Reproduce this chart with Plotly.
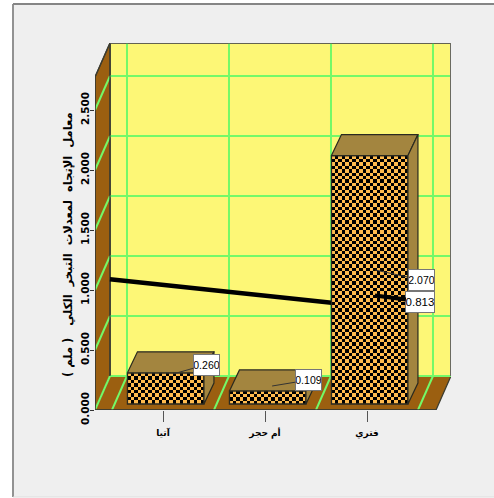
import numpy as np
import plotly.graph_objects as go

# Chart values
categories = ["آتيا", "أم حجر", "فتري"]
bar_values = [0.260, 0.109, 2.070]
bar_labels = ["0.260", "0.109", "2.070"]
trend_x = [-0.52, 0, 1, 2]
trend_y = [1.04, 0.995, 0.904, 0.813]
trend_label = "0.813"
y_ticks = [0.0, 0.5, 1.0, 1.5, 2.0, 2.5]
axis_title = "معامل  الإتجاه  لمعدلات  التبخر  الكلي   ( ملم )"

# Drawing scale of the pseudo-3D box
W, H = 494, 498
PX_L, PX_R, PX_T, PX_B = 95, 451, 43, 410
PX_PER_CAT = 102.0
PX_PER_UNIT = 120.0
X_RANGE = [(PX_L - 163) / PX_PER_CAT, (PX_R - 163) / PX_PER_CAT]
Y_RANGE = [0, (PX_B - PX_T) / PX_PER_UNIT]
BOX_DX = 15 / PX_PER_CAT
BOX_DY = 34 / PX_PER_UNIT
BAR_DX = 10 / PX_PER_CAT
BAR_DY = 21 / PX_PER_UNIT
BAR_BASE = 6 / PX_PER_UNIT
BAR_W = 76.5 / PX_PER_CAT
BAR_SHIFT = 2.7 / PX_PER_CAT
FRONT_RIGHT = X_RANGE[1] - BOX_DX
CELL = 3.4

BROWN = "#9b5f10"
YELLOW = "#fdf776"
GREEN = "#74f968"
TAN = "#a3853f"
ORANGE = "#ffbb4e"
EDGE = "#3c3c30"


def polygon(xs, ys, fill, line=EDGE, width=1.3):
    path = "M" + " L".join(f"{x},{y}" for x, y in zip(xs, ys)) + " Z"
    return dict(type="path", xref="x", yref="y", path=path, fillcolor=fill,
                line=dict(color=line, width=width), layer="below")


def segment(x0, y0, x1, y1, color=GREEN, width=2):
    return dict(type="line", xref="x", yref="y", x0=x0, y0=y0, x1=x1, y1=y1,
                line=dict(color=color, width=width), layer="below")


def paper_x(px):
    return (px - PX_L) / (PX_R - PX_L)


def paper_y(px):
    return (PX_B - px) / (PX_B - PX_T)


x0, x1 = X_RANGE
top = Y_RANGE[1]
shapes = [
    # Panel behind the chart
    dict(type="rect", xref="paper", yref="paper", x0=paper_x(13), x1=paper_x(494),
         y0=paper_y(497), y1=paper_y(4), fillcolor="#efefef",
         line=dict(color="rgba(0,0,0,0)", width=0), layer="below"),
    dict(type="line", xref="paper", yref="paper", x0=paper_x(13), x1=paper_x(13),
         y0=paper_y(497), y1=paper_y(4), line=dict(color="#929292", width=2), layer="below"),
    dict(type="line", xref="paper", yref="paper", x0=paper_x(13), x1=paper_x(494),
         y0=paper_y(4), y1=paper_y(4), line=dict(color="#858585", width=2), layer="below"),
    dict(type="line", xref="paper", yref="paper", x0=paper_x(13), x1=paper_x(494),
         y0=paper_y(497), y1=paper_y(497), line=dict(color="#dcdcdc", width=1), layer="below"),
    # Back wall, left wall and floor
    polygon([x0 + BOX_DX, x1, x1, x0 + BOX_DX], [BOX_DY, BOX_DY, top, top], YELLOW, "#6a6a60", 1.6),
    polygon([x0, x0, x0 + BOX_DX, x0 + BOX_DX], [0, top - BOX_DY, top, BOX_DY], BROWN),
    polygon([x0, FRONT_RIGHT, x1, x0 + BOX_DX], [0, 0, BOX_DY, BOX_DY], BROWN),
]

# Grid lines running along the walls and the floor
for v in y_ticks:
    shapes.append(segment(x0, v, x0 + BOX_DX, v + BOX_DY))
    shapes.append(segment(x0 + BOX_DX, v + BOX_DY, x1, v + BOX_DY))
for i in range(len(categories) + 1):
    gx = i - 0.353
    shapes.append(segment(gx, BOX_DY, gx, top))
    shapes.append(segment(gx - BOX_DX, 0, gx, BOX_DY))

# Re-stroke the box edges above the grid
shapes += [
    segment(x0, 0, FRONT_RIGHT, 0, EDGE, 1.6),
    segment(x0, 0, x0, top - BOX_DY, EDGE, 1.6),
    segment(x0, top - BOX_DY, x0 + BOX_DX, top, EDGE, 1.3),
    segment(x0 + BOX_DX, 0 + BOX_DY, x0 + BOX_DX, top, EDGE, 1.3),
    segment(x0 + BOX_DX, top, x1, top, "#55554c", 1.6),
    segment(x1, BOX_DY, x1, top, "#6a6a60", 2),
]

fig = go.Figure()

# Sloping trend line sits behind the bars
fig.add_trace(go.Scatter(x=trend_x, y=[v + BAR_BASE for v in trend_y], mode="lines",
                         line=dict(color="black", width=4.5), hoverinfo="skip",
                         xaxis="x", yaxis="y"))

# Checkered front faces, one texture block per bar
for i, v in enumerate(bar_values):
    left = i + BAR_SHIFT - BAR_W / 2
    right = left + BAR_W
    px_w = BAR_W * PX_PER_CAT
    px_h = v * PX_PER_UNIT
    n_cols = int(round(px_w / CELL))
    n_rows = max(1, int(round(px_h / CELL)))
    xe = np.linspace(left, right, n_cols + 1)
    ye = np.linspace(BAR_BASE, BAR_BASE + v, n_rows + 1)
    check = (np.indices((n_rows, n_cols)).sum(axis=0) % 2).astype(float)
    fig.add_trace(go.Heatmap(x=xe, y=ye, z=check, zmin=0, zmax=1, showscale=False,
                             colorscale=[[0, ORANGE], [1, "black"]], hoverinfo="skip",
                             xaxis="x2", yaxis="y2"))

# The bars themselves: outline over the texture
fig.add_trace(go.Bar(x=[i + BAR_SHIFT for i in range(len(bar_values))], y=bar_values,
                     base=BAR_BASE, width=BAR_W,
                     marker=dict(color="rgba(0,0,0,0)", line=dict(color="#2a2a20", width=1.3)),
                     hoverinfo="skip", xaxis="x2", yaxis="y2"))

# Top and side faces of each bar
for i, v in enumerate(bar_values):
    left = i + BAR_SHIFT - BAR_W / 2
    right = left + BAR_W
    y_top = BAR_BASE + v
    fig.add_trace(go.Scatter(
        x=[left, right, right + BAR_DX, left + BAR_DX, left],
        y=[y_top, y_top, y_top + BAR_DY, y_top + BAR_DY, y_top],
        mode="lines", fill="toself", fillcolor=TAN, line=dict(color="#2a2a20", width=1.2),
        hoverinfo="skip", xaxis="x2", yaxis="y2"))
    fig.add_trace(go.Scatter(
        x=[right, right + BAR_DX, right + BAR_DX, right, right],
        y=[BAR_BASE, BAR_BASE + BAR_DY, y_top + BAR_DY, y_top, BAR_BASE],
        mode="lines", fill="toself", fillcolor=TAN, line=dict(color="#2a2a20", width=1.2),
        hoverinfo="skip", xaxis="x2", yaxis="y2"))


def value_label(text, x, y, ax, ay, size=10.5, arrow=1, color="#333", box_w=25):
    return dict(text=text, x=x, y=y, xref="x", yref="y", ax=ax, ay=ay,
                axref="pixel", ayref="pixel", showarrow=True, arrowhead=0,
                arrowwidth=arrow, arrowcolor=color, bgcolor="white",
                width=box_w, height=20, align="center", valign="middle",
                bordercolor="#777", borderwidth=1, borderpad=0,
                font=dict(family="Liberation Sans", size=size, color="black"))


annotations = [
    value_label(bar_labels[0], 0.098, 0.30, 33.6, -9.5),
    value_label(bar_labels[1], 1.07, 0.20, 36.4, -6),
    value_label(bar_labels[2], 2.078, 1.167, 46.4, 10),
    value_label(trend_label, 2.078, trend_y[2] + BAR_BASE, 45.4, 6, size=11.5, arrow=4,
                color="black", box_w=28),
    dict(text=axis_title, xref="paper", yref="paper", x=paper_x(68), y=paper_y(245),
         showarrow=False, textangle=-90, xanchor="center", yanchor="middle",
         font=dict(family="DejaVu Sans", size=11.5, color="black", weight="bold")),
]

axis_common = dict(showgrid=False, zeroline=False, showline=False, automargin=False)
fig.update_layout(
    width=W, height=H, autosize=False, showlegend=False,
    margin=dict(l=PX_L, r=W - PX_R, t=PX_T, b=H - PX_B, pad=0),
    paper_bgcolor="white", plot_bgcolor="rgba(0,0,0,0)",
    barmode="overlay", shapes=shapes, annotations=annotations,
    xaxis=dict(range=X_RANGE, tickmode="array", tickvals=[0, 1, 2], ticktext=categories,
               ticks="outside", ticklen=11, tickcolor="#555", tickwidth=1, ticklabelstandoff=3,
               tickfont=dict(family="DejaVu Sans", size=9, color="black", weight="bold"),
               **axis_common),
    yaxis=dict(range=Y_RANGE, tickmode="array", tickvals=y_ticks,
               ticktext=[f"{v:.3f}" for v in y_ticks], tickangle=-90,
               ticks="outside", ticklen=4, tickcolor="#333", tickwidth=1, ticklabelstandoff=-3,
               tickfont=dict(family="DejaVu Sans", size=10.5, color="black", weight="bold"),
               **axis_common),
    xaxis2=dict(range=X_RANGE, overlaying="x", visible=False, **axis_common),
    yaxis2=dict(range=Y_RANGE, overlaying="y", visible=False, **axis_common),
)

fig.write_html("out.html", config=dict(displayModeBar=False))
